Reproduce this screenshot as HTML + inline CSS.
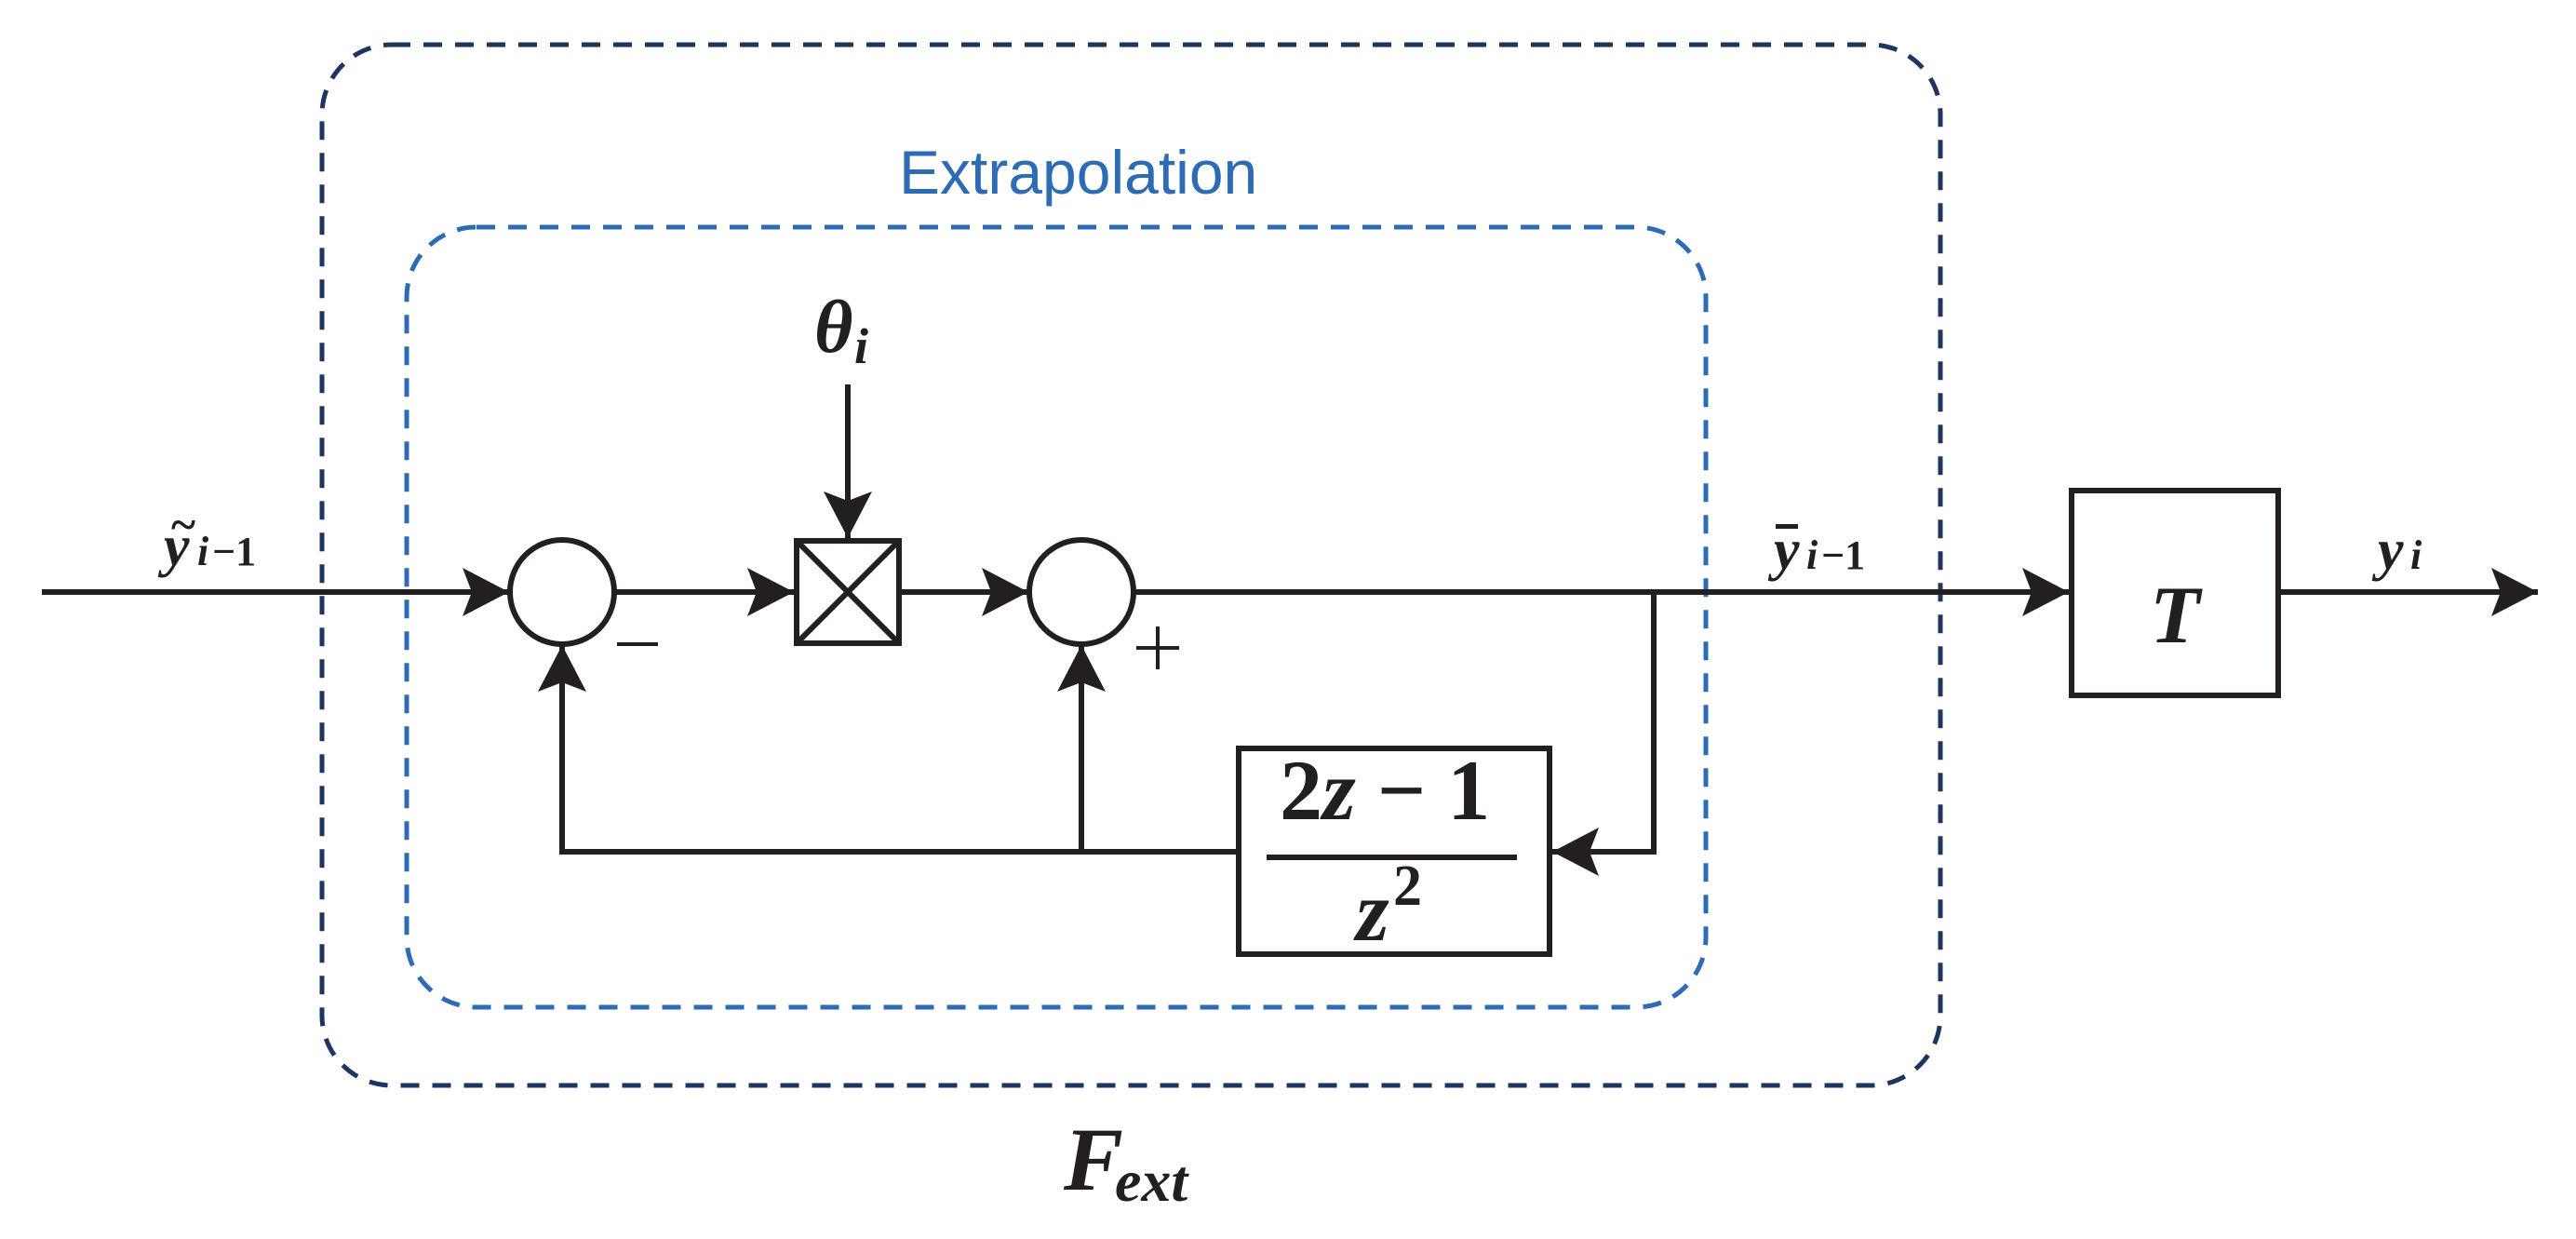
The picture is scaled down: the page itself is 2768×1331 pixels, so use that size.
<!DOCTYPE html>
<html><head><meta charset="utf-8"><style>
html,body{margin:0;padding:0;background:#fff;}
svg{display:block;}
.m{font-family:"Liberation Serif",serif;font-style:italic;font-weight:bold;fill:#231f20;}
.n{font-family:"Liberation Serif",serif;font-weight:bold;fill:#231f20;}
</style></head><body>
<svg width="2768" height="1331" viewBox="0 0 2768 1331" xmlns="http://www.w3.org/2000/svg">
<defs>
<marker id="a" viewBox="0 0 50 52" refX="50" refY="26" markerWidth="50" markerHeight="52" markerUnits="userSpaceOnUse" orient="auto">
<path d="M0,0 L50,26 L0,52 L10,26 Z" fill="#231f20"/>
</marker>
</defs>
<rect x="346" y="48" width="1739" height="1118" rx="75" fill="none" stroke="#1f3561" stroke-width="5" stroke-dasharray="20,14"/>
<rect x="437" y="244" width="1396" height="838" rx="75" fill="none" stroke="#2e6bb5" stroke-width="5" stroke-dasharray="20,14"/>
<text x="966" y="208" font-family="Liberation Sans, sans-serif" font-size="66" fill="#2e6bb5">Extrapolation</text>
<g stroke="#231f20" stroke-width="6" fill="none">
<line x1="45" y1="636" x2="547" y2="636" marker-end="url(#a)"/>
<circle cx="604" cy="636" r="56" fill="#fff"/>
<line x1="661" y1="636" x2="853" y2="636" marker-end="url(#a)"/>
<rect x="856" y="581" width="110" height="110" fill="#fff"/>
<line x1="856" y1="581" x2="966" y2="691"/>
<line x1="966" y1="581" x2="856" y2="691"/>
<line x1="911" y1="413" x2="911" y2="578" marker-end="url(#a)"/>
<line x1="969" y1="636" x2="1105" y2="636" marker-end="url(#a)"/>
<circle cx="1162" cy="636" r="56" fill="#fff"/>
<line x1="1219" y1="636" x2="2223" y2="636" marker-end="url(#a)"/>
<polyline points="1777,636 1777,915 1668,915" marker-end="url(#a)"/>
<rect x="1331" y="804" width="334" height="221" fill="#fff"/>
<polyline points="1331,915 604,915 604,693" marker-end="url(#a)"/>
<line x1="1162" y1="915" x2="1162" y2="693" marker-end="url(#a)"/>
<rect x="2226" y="527" width="222" height="220" fill="#fff"/>
<line x1="2448" y1="636" x2="2727" y2="636" marker-end="url(#a)"/>
<line x1="1361" y1="921" x2="1630" y2="921"/>
<line x1="663" y1="692" x2="707" y2="692" stroke-width="4"/>
<line x1="1221" y1="696" x2="1267" y2="696" stroke-width="4"/>
<line x1="1244" y1="673" x2="1244" y2="719" stroke-width="4"/>
</g>
<text x="176" y="607" class="m" font-size="62">y</text>
<text x="184" y="580" class="n" font-size="50">~</text>
<text x="212" y="607" class="m" font-size="44">i</text>
<text x="228" y="607" class="n" font-size="44">−1</text>
<text x="1906" y="611" class="m" font-size="62">y</text>
<rect x="1908" y="563" width="24" height="5" fill="#231f20"/>
<text x="1941" y="611" class="m" font-size="44">i</text>
<text x="1957" y="611" class="n" font-size="44">−1</text>
<text x="2555" y="611" class="m" font-size="62">y</text>
<text x="2590" y="611" class="m" font-size="44">i</text>
<text x="2337" y="690" class="m" font-size="88" text-anchor="middle">T</text>
<text x="875" y="378" class="m" font-size="80">θ</text>
<text x="918" y="390" class="m" font-size="54">i</text>
<text x="1375" y="880" class="n" font-size="92">2<tspan class="m">z</tspan> − 1</text>
<text x="1457" y="1010" class="m" font-size="92">z</text>
<text x="1497" y="972" class="n" font-size="62">2</text>
<text x="1143" y="1278" class="m" font-size="96">F</text>
<text x="1198" y="1290" class="m" font-size="64">ext</text>
</svg>
</body></html>
